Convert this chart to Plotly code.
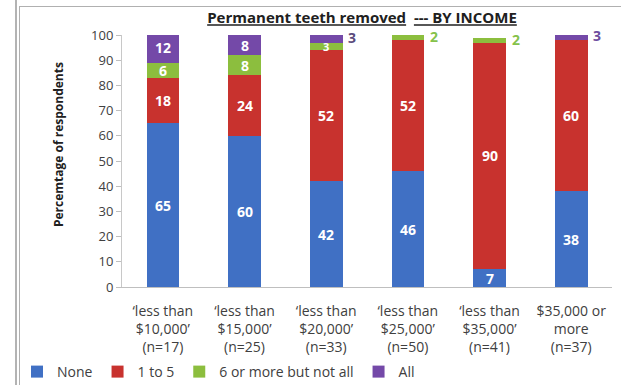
import plotly.graph_objects as go

# Income groups and the share of respondents in each tooth-removal bucket
categories = [
    "‘less than<br>$10,000’<br>(n=17)",
    "‘less than<br>$15,000’<br>(n=25)",
    "‘less than<br>$20,000’<br>(n=33)",
    "‘less than<br>$25,000’<br>(n=50)",
    "‘less than<br>$35,000’<br>(n=41)",
    "$35,000 or<br>more<br>(n=37)",
]
none_vals = [65, 60, 42, 46, 7, 38]
one_to_five = [18, 24, 52, 52, 90, 60]
six_or_more = [6, 8, 3, 2, 2, 0]
all_vals = [12, 8, 3, 0, 0, 3]

series = [
    ("None", none_vals, "#4070C4"),
    ("1 to 5", one_to_five, "#C8322E"),
    ("6 or more but not all", six_or_more, "#8CBE3E"),
    ("All", all_vals, "#7449A8"),
]
# segments whose value label sits to the right of the bar
outside_labels = {
    ("All", 2): "#5B4B7C",
    ("6 or more but not all", 3): "#86C24A",
    ("6 or more but not all", 4): "#86C24A",
    ("All", 5): "#6C4C9E",
}

FONT = "Open Sans"
W, H = 621, 385
ML, MR, MT, MB = 122, 9, 35, 98
PW, PH = W - ML - MR, H - MT - MB


def px_x(px):
    return (px - ML) / PW


def px_y(py):
    return (H - MB - py) / PH


fig = go.Figure()
for name, vals, color in series:
    fig.add_trace(go.Bar(
        name=name, x=categories, y=vals,
        marker=dict(color=color, line=dict(width=0)),
    ))

annotations = []
base = [0] * len(categories)
for name, vals, color in series:
    for i, v in enumerate(vals):
        if v > 0:
            mid = base[i] + v / 2
            if (name, i) in outside_labels:
                annotations.append(dict(
                    x=categories[i], y=mid, xref="x", yref="y",
                    text=f"<b>{v}</b>", showarrow=False,
                    xshift=26, yshift=1,
                    font=dict(family=FONT, size=14,
                              color=outside_labels[(name, i)]),
                ))
            else:
                annotations.append(dict(
                    x=categories[i], y=mid, xref="x", yref="y",
                    text=f"<b>{v}</b>", showarrow=False,
                    font=dict(family=FONT, size=14 if v >= 5 else 11,
                              color="white"),
                ))
        base[i] += v

# vertical axis title
annotations.append(dict(
    x=px_x(58), y=px_y(145), xref="paper", yref="paper",
    text="<b>Percemtage of respondents</b>", textangle=-90,
    showarrow=False, xanchor="center", yanchor="middle",
    font=dict(family=FONT, size=12, color="#202020"),
))

shapes = [
    # outer frame lines
    dict(type="line", xref="paper", yref="paper",
         x0=px_x(16), x1=px_x(16), y0=px_y(0), y1=px_y(385),
         line=dict(color="#9A9A9A", width=1.5)),
    dict(type="line", xref="paper", yref="paper",
         x0=px_x(19.5), x1=px_x(19.5), y0=px_y(6), y1=px_y(385),
         line=dict(color="#B0B0B0", width=1)),
    dict(type="line", xref="paper", yref="paper",
         x0=px_x(19.5), x1=px_x(621), y0=px_y(6.5), y1=px_y(6.5),
         line=dict(color="#B0B0B0", width=1)),
]

fig.update_layout(
    width=W, height=H,
    margin=dict(l=ML, r=MR, t=MT, b=MB, autoexpand=False),
    barmode="stack", bargap=0.6,
    plot_bgcolor="white", paper_bgcolor="white",
    font=dict(family=FONT, size=13, color="#404040"),
    title=dict(
        text="<b><u>Permanent teeth removed</u>  <u>--- BY INCOME</u></b>",
        x=362 / W, xanchor="center", xref="container",
        y=1 - 18 / H, yanchor="middle", yref="container",
        font=dict(family=FONT, size=15, color="#202020"),
    ),
    xaxis=dict(
        showline=True, linecolor="#BFBFBF", linewidth=1,
        ticks="", tickfont=dict(family=FONT, size=14, color="#404040"),
        ticklabelstandoff=11, automargin=False,
    ),
    yaxis=dict(
        range=[0, 100], dtick=10, showgrid=False, zeroline=False,
        showline=True, linecolor="#C8C8C8", linewidth=1,
        ticks="outside", ticklen=5, tickcolor="#BFBFBF",
        tickfont=dict(family=FONT, size=13, color="#404040"),
        automargin=False,
    ),
    legend=dict(
        orientation="h", x=px_x(17), y=px_y(372),
        xanchor="left", yanchor="middle", traceorder="normal",
        font=dict(family=FONT, size=14, color="#404040"),
        bgcolor="rgba(0,0,0,0)", itemwidth=30, tracegroupgap=0,
    ),
    annotations=annotations,
    shapes=shapes,
)

fig.write_html("out.html")
